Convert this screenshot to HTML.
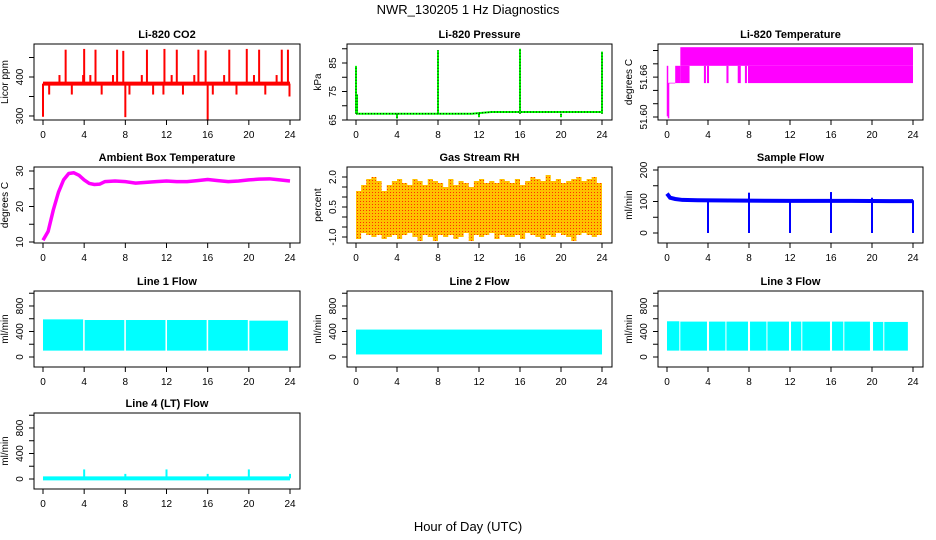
<!DOCTYPE html>
<html><head><meta charset="utf-8"><style>
html,body{margin:0;padding:0;background:#fff;}
svg{display:block;font-family:"Liberation Sans",Arial,sans-serif;}
</style></head><body>
<svg id="chart" width="936" height="540" viewBox="0 0 936 540">
<defs>
<pattern id="rhpat" width="3" height="3" patternUnits="userSpaceOnUse">
<rect width="3" height="3" fill="#ffc000"/><rect width="1" height="1" fill="#ff3000"/>
</pattern>
</defs>
<text x="468" y="14" text-anchor="middle" font-size="13">NWR_130205  1 Hz Diagnostics</text>
<text x="468" y="531" text-anchor="middle" font-size="13">Hour of Day (UTC)</text>
</svg>
<script>
// ---- data ----
const xTicks = [0,4,8,12,16,20,24];
const co2Base = 383;
const co2SpikeHours = [0.0,0.6,1.6,2.2,2.8,3.9,4.0,4.6,5.1,5.7,6.8,7.2,7.8,8.0,8.4,9.6,10.1,10.7,11.7,11.8,12.5,13.0,13.6,14.7,15.1,15.8,16.0,16.5,17.6,18.1,18.8,19.8,20.5,21.0,21.6,22.7,23.2,23.8,23.95];
const co2SpikeValues = [298,355,405,470,355,405,472,405,470,355,405,470,467,297,355,405,470,355,355,472,405,470,355,405,470,468,288,355,405,470,355,472,405,470,355,405,470,470,350];
const presHours = [0,11.3,13.2,24];
const presValues = [67.2,67.2,67.8,67.8];
const presSpikeHours = [0.0,0.1,4.0,8.0,12.0,16.0,20.0,24.0];
const presSpikeValues = [84,74,65.5,89.5,66,90,66,89];
const tempLevels = [51.651,51.677,51.705];
const tempGaps = [[2.2,3.6],[3.8,3.9],[4.1,5.8],[6.0,6.9],[7.2,7.6],[7.8,7.9]];
const ambHours = [0,0.5,1,1.5,2,2.5,3,3.5,4,4.5,5,5.5,6,7,8,9,10,11,12,13,14,15,16,17,18,19,20,21,22,23,24];
const ambValues = [10.5,13,19,24,27.5,29.3,29.5,28.8,27.5,26.5,26.2,26.3,27,27.2,27,26.6,26.8,27,27.2,27,27,27.3,27.6,27.3,27,27.2,27.5,27.7,27.8,27.5,27.2];
const rhHours = Array.from({length:49},(_,i)=>i*0.5);
const rhUpper = [1.3,1.6,1.9,2.0,1.8,1.3,1.6,1.8,1.9,1.7,1.6,1.9,1.8,1.6,1.9,1.8,1.7,1.5,1.9,1.6,1.8,1.7,1.5,1.8,1.9,1.7,1.8,1.7,1.9,1.8,1.7,1.9,1.6,1.8,2.0,1.9,1.8,2.1,1.8,1.9,1.7,1.8,1.9,2.0,1.8,1.9,2.0,1.7,1.5];
const rhLower = [-1.1,-0.8,-0.9,-1.0,-0.9,-1.1,-1.0,-0.9,-1.1,-0.9,-0.8,-1.0,-1.2,-0.9,-1.0,-1.2,-0.9,-1.0,-0.9,-1.1,-1.0,-0.8,-1.2,-0.9,-1.0,-0.9,-0.8,-1.1,-0.9,-1.0,-1.0,-0.9,-1.1,-0.8,-0.9,-1.0,-1.1,-0.9,-1.0,-0.8,-0.9,-1.0,-1.2,-0.9,-0.8,-0.9,-1.0,-0.9,-0.8];
const sfHours = [0,0.3,0.8,1.5,3,6,12,18,24];
const sfValues = [125,112,108,105,104,103,102,102,101];
const sfEventHours = [4,8,12,16,20,24];
const sfEventLow = [0,0,0,0,0,0];
const sfEventHigh = [104,128,104,130,112,104];
const l1Spans = [[0,3.9],[4.05,7.9],[8.05,11.9],[12.05,15.9],[16.05,19.9],[20.05,23.8]];
const l1Hi = [590,580,580,580,580,570];
const l1Lo = 100;
const l2Spans = [[0,24]];
const l2Hi = [430];
const l2Lo = 40;
const l3Spans = [[0,1.2],[1.3,3.9],[4.1,5.7],[5.8,7.9],[8.1,9.7],[9.8,11.9],[12.1,13.1],[13.2,15.9],[16.1,17.2],[17.3,19.8],[20.1,21.1],[21.2,23.5]];
const l3Hi = [560,555,555,555,555,555,555,555,555,555,550,550];
const l3Lo = 100;
const l4Base = 10;
const l4SpikeHours = [4,8,12,16,20,24];
const l4SpikeValues = [150,80,150,80,150,80];

// ---- layout ----
const svg = document.getElementById('chart');
const NS = 'http://www.w3.org/2000/svg';
function mk(tag, attrs, parent){const e=document.createElementNS(NS,tag);for(const k in attrs)e.setAttribute(k,attrs[k]);(parent||svg).appendChild(e);return e;}
const cols = [[34,300],[347,612],[658,923]];
const rows = [44,167,291,413];
const H = 76;

function panel(name, r, c, title, ylab, ymin, ymax, ticks, labels){
  const L=cols[c][0], R=cols[c][1], T=rows[r], B=T+H;
  const g = mk('g',{});
  
  
  const xs = h => L+9 + h*(R-L-19)/24;
  const ys = v => B - (v-ymin)/(ymax-ymin)*H;
  const data = mk('g',{},g);
  
  
  const box = mk('rect',{x:L,y:T,width:R-L,height:H,fill:'none',stroke:'#000','stroke-width':1},g);
  
  
  const t = mk('text',{x:(L+R)/2,y:T-6,'text-anchor':'middle','font-size':11,'font-weight':'bold'},g);
  t.textContent = title;
  
  
  xTicks.forEach(h=>{
    mk('line',{x1:xs(h),x2:xs(h),y1:B,y2:B+5,stroke:'#000'},g);
    const tl = mk('text',{x:xs(h),y:B+18,'text-anchor':'middle','font-size':10},g);
    tl.textContent = h;
    
    
  });
  ticks.forEach(v=>{mk('line',{x1:L-5,x2:L,y1:ys(v),y2:ys(v),stroke:'#000'},g);});
  labels.forEach(s=>{
    const v=parseFloat(s), x=L-11, y=ys(v);
    const tl = mk('text',{x:x,y:y,'text-anchor':'middle','font-size':10,transform:`rotate(-90 ${x} ${y})`},g);
    tl.textContent = s;
    
    
  });
  const yx=L-26, yy=(T+B)/2;
  const yl = mk('text',{x:yx,y:yy,'text-anchor':'middle','font-size':10,transform:`rotate(-90 ${yx} ${yy})`},g);
  yl.textContent = ylab;
  
  
  return {g:data,xs,ys};
}
function vline(p,h,v1,v2,color,w){mk('line',{x1:p.xs(h),x2:p.xs(h),y1:p.ys(v1),y2:p.ys(v2),stroke:color,'stroke-width':w||1.5},p.g);}
function band(p,h1,h2,lo,hi,color){mk('rect',{x:p.xs(h1),y:p.ys(hi),width:Math.max(0.5,p.xs(h2)-p.xs(h1)),height:p.ys(lo)-p.ys(hi),fill:color},p.g);}

// CO2
let p = panel('co2',0,0,'Li-820 CO2','Licor ppm',289.7,484.6,[300,350,400,450],['300','400']);
co2SpikeHours.forEach((h,i)=>vline(p,h,co2Base,co2SpikeValues[i],'#f00',2));
mk('line',{x1:p.xs(0),x2:p.xs(24),y1:p.ys(co2Base),y2:p.ys(co2Base),stroke:'#f00','stroke-width':4},p.g);

// Pressure
p = panel('pressure',0,1,'Li-820 Pressure','kPa',65,91.67,[65,70,75,80,85,90],['65','75','85']);
mk('polyline',{points:presHours.map((h,i)=>p.xs(h)+','+p.ys(presValues[i])).join(' '),fill:'none',stroke:'#0f0','stroke-width':2},p.g);
mk('polyline',{points:presHours.map((h,i)=>p.xs(h)+','+p.ys(presValues[i])).join(' '),fill:'none',stroke:'#000','stroke-width':1,'stroke-dasharray':'1,2'},p.g);
presSpikeHours.forEach((h,i)=>{vline(p,h,67.2,presSpikeValues[i],'#0f0',2);mk('line',{x1:p.xs(h),x2:p.xs(h),y1:p.ys(67.2),y2:p.ys(presSpikeValues[i]),stroke:'#000','stroke-width':1,'stroke-dasharray':'1,2'},p.g);});

// Li-820 temperature
p = panel('li820-temp',0,2,'Li-820 Temperature','degrees C',51.5955,51.7098,[51.60,51.62,51.64,51.66,51.68,51.70],['51.60','51.66']);
vline(p,0.05,51.601,tempLevels[1],'#f0f',1.5);
vline(p,0.15,51.598,tempLevels[0],'#f0f',1.5);
band(p,0.15,0.8,tempLevels[0]-0.0005,tempLevels[0]+0.0005,'#f0f');
band(p,0.8,1.3,tempLevels[0],tempLevels[1],'#f0f');
band(p,1.3,24,tempLevels[1],tempLevels[2],'#f0f');
let prev=1.3;
tempGaps.forEach(gp=>{band(p,prev,gp[0],tempLevels[0],tempLevels[1],'#f0f');prev=gp[1];});
band(p,prev,24,tempLevels[0],tempLevels[1],'#f0f');

// Ambient
p = panel('ambient-temp',1,0,'Ambient Box Temperature','degrees C',9.72,31.13,[10,15,20,25,30],['10','20','30']);
mk('polyline',{points:ambHours.map((h,i)=>p.xs(h)+','+p.ys(ambValues[i])).join(' '),fill:'none',stroke:'#f0f','stroke-width':3.5,'stroke-linejoin':'round'},p.g);

// RH
p = panel('gas-rh',1,1,'Gas Stream RH','percent',-1.3,2.5,[-1,-0.5,0,0.5,1,1.5,2],['-1.0','0.5','2.0']);
{let pts=[];rhHours.forEach((h,i)=>{const h2=Math.min(24,h+0.5);pts.push(p.xs(h)+','+p.ys(rhUpper[i]),p.xs(h2)+','+p.ys(rhUpper[i]));});
for(let i=rhHours.length-1;i>=0;i--){const h=rhHours[i],h2=Math.min(24,h+0.5);pts.push(p.xs(h2)+','+p.ys(rhLower[i]),p.xs(h)+','+p.ys(rhLower[i]));}
mk('polygon',{points:pts.join(' '),fill:'url(#rhpat)'},p.g);}

// Sample flow
p = panel('sample-flow',1,2,'Sample Flow','ml/min',-31.7,209.5,[0,50,100,150,200],['0','100','200']);
mk('polyline',{points:sfHours.map((h,i)=>p.xs(h)+','+p.ys(sfValues[i])).join(' '),fill:'none',stroke:'#00f','stroke-width':4},p.g);
sfEventHours.forEach((h,i)=>vline(p,h,sfEventLow[i],sfEventHigh[i],'#00f',2));

// Line flows
function flowPanel(name,r,c,title,spans,hi,lo){
  const q = panel(name,r,c,title,'ml/min',-157,1035,[0,200,400,600,800,1000],['0','400','800']);
  spans.forEach((s,i)=>band(q,s[0],s[1],lo,hi[i],'#0ff'));
  return q;
}
flowPanel('line1-flow',2,0,'Line 1 Flow',l1Spans,l1Hi,l1Lo);
flowPanel('line2-flow',2,1,'Line 2 Flow',l2Spans,l2Hi,l2Lo);
flowPanel('line3-flow',2,2,'Line 3 Flow',l3Spans,l3Hi,l3Lo);
p = flowPanel('line4-flow',3,0,'Line 4 (LT) Flow',[],[],0);
mk('line',{x1:p.xs(0),x2:p.xs(24),y1:p.ys(l4Base),y2:p.ys(l4Base),stroke:'#0ff','stroke-width':4},p.g);
l4SpikeHours.forEach((h,i)=>vline(p,h,l4Base,l4SpikeValues[i],'#0ff',2));
</script>
</body></html>
